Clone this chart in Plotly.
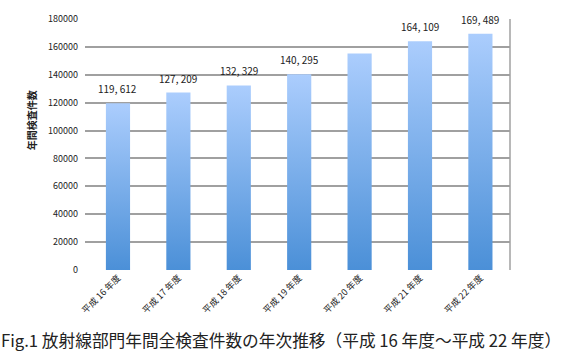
import plotly.graph_objects as go

categories = ["平成 16 年度", "平成 17 年度", "平成 18 年度", "平成 19 年度",
              "平成 20 年度", "平成 21 年度", "平成 22 年度"]
values = [119612, 127209, 132329, 140295, 155200, 164109, 169489]
labels = ["119, 612", "127, 209", "132, 329", "140, 295", "", "164, 109", "169, 489"]
y_ticks = [0, 20000, 40000, 60000, 80000, 100000, 120000, 140000, 160000, 180000]

FONT = "Noto Sans CJK JP, Noto Sans, sans-serif"
half_w = 0.2
top_col = "#abcdfd"
bot_col = "#4a8fd7"

fig = go.Figure()
for i, v in enumerate(values):
    fig.add_trace(go.Scatter(
        x=[i - half_w, i + half_w, i + half_w, i - half_w, i - half_w],
        y=[0, 0, v, v, 0],
        mode="lines", line=dict(width=0), fill="toself",
        fillgradient=dict(type="vertical", start=0, stop=v,
                          colorscale=[[0, bot_col], [1, top_col]]),
        hoverinfo="skip", showlegend=False,
    ))
    if labels[i]:
        fig.add_annotation(x=i, y=v, text=labels[i], showarrow=False,
                           yanchor="bottom", yshift=5,
                           font=dict(family=FONT, size=10, color="#222"))

fig.add_annotation(xref="x domain", yref="y domain",
                   x=(31 - 85) / 425, y=(270 - 119) / 253,
                   xanchor="center", yanchor="middle",
                   text="<b>年間検査件数</b>",
                   showarrow=False, textangle=-90,
                   font=dict(family=FONT, size=10, color="#222"))

fig.add_annotation(xref="paper", yref="paper",
                   x=(281 - 85) / 425, y=(270 - 341) / 253,
                   xanchor="center", yanchor="middle",
                   text="Fig.1 放射線部門年間全検査件数の年次推移（平成 16 年度～平成 22 年度）",
                   showarrow=False, font=dict(family=FONT, size=16.7, color="#222"))

fig.add_shape(type="line", xref="x domain", yref="y domain", x0=1, x1=1, y0=0, y1=1,
              line=dict(color="#a0a0a0", width=1.5))

fig.update_layout(
    width=561, height=355,
    margin=dict(l=85, r=51, t=17, b=85),
    paper_bgcolor="white", plot_bgcolor="white",
    font=dict(family=FONT, size=9, color="#222"),
    xaxis=dict(range=[-0.546, 6.49], tickvals=list(range(len(categories))),
               ticktext=categories, tickangle=-45, showgrid=False,
               zeroline=False, showline=False, ticks="",
               tickfont=dict(family=FONT, size=9)),
    yaxis=dict(range=[0, 180000], tickvals=y_ticks,
               ticktext=[str(t) for t in y_ticks],
               showgrid=True, gridcolor="#a0a0a0", gridwidth=1.5,
               zeroline=False, showline=False, ticks="",
               tickfont=dict(family=FONT, size=9), ticklabelstandoff=6),
)

fig.write_html("out.html")
